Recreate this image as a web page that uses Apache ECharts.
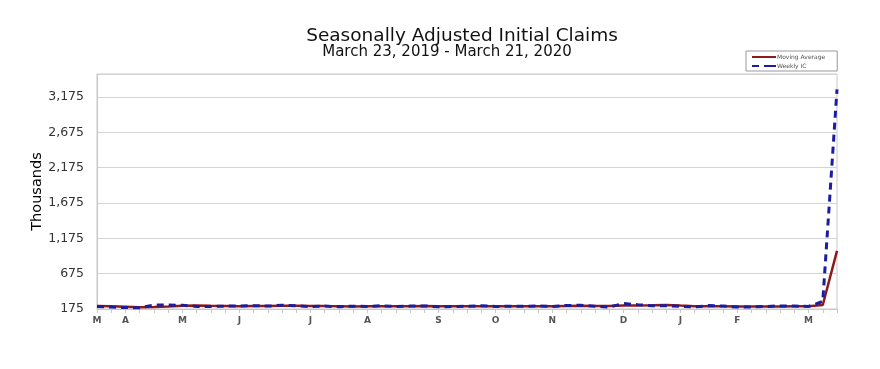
<!DOCTYPE html>
<html>
<head>
<meta charset="utf-8">
<script src="https://cdn.jsdelivr.net/npm/echarts@6/dist/echarts.min.js"></script>
<style>
  html, body { margin: 0; padding: 0; background: #fff; }
  #chart { width: 880px; height: 369px; }
</style>
</head>
<body>
<div id="chart"></div>
<script>
// week ending dates, 2019-03-23 .. 2020-03-21
const weeks = [
  '3/23', '3/30', '4/6', '4/13', '4/20', '4/27', '5/4', '5/11', '5/18', '5/25',
  '6/1', '6/8', '6/15', '6/22', '6/29', '7/6', '7/13', '7/20', '7/27', '8/3',
  '8/10', '8/17', '8/24', '8/31', '9/7', '9/14', '9/21', '9/28', '10/5', '10/12',
  '10/19', '10/26', '11/2', '11/9', '11/16', '11/23', '11/30', '12/7', '12/14', '12/21',
  '12/28', '1/4', '1/11', '1/18', '1/25', '2/1', '2/8', '2/15', '2/22', '2/29',
  '3/7', '3/14', '3/21'
]

// month letter shown under the first week of each month
const monthLabels = {
  '3/23': 'M', '4/6': 'A', '5/4': 'M', '6/1': 'J', '7/6': 'J', '8/3': 'A',
  '9/7': 'S', '10/5': 'O', '11/2': 'N', '12/7': 'D', '1/4': 'J', '2/1': 'F', '3/7': 'M'
}

// thousands
const weeklyIC = [
  211, 202, 196, 193, 230, 230, 228, 212, 211, 215,
  218, 222, 216, 227, 222, 209, 216, 208, 215, 211,
  221, 210, 216, 219, 206, 210, 215, 220, 211, 214,
  213, 217, 211, 225, 227, 213, 203, 252, 235, 222,
  220, 214, 204, 223, 216, 202, 205, 211, 219, 216,
  211, 282, 3283
]

const movingAverage = [
  217, 213, 207, 201, 205, 212, 220, 225, 220, 217,
  214, 217, 218, 221, 222, 219, 216, 214, 212, 213,
  214, 214, 215, 217, 213, 213, 213, 213, 214, 215,
  215, 214, 214, 217, 220, 219, 217, 224, 226, 228,
  232, 223, 215, 215, 214, 211, 212, 209, 209, 213,
  214, 232, 998
]

const chart = echarts.init(document.getElementById('chart'))

const option = {
  backgroundColor: '#fff',
  animation: false,
  textStyle: { fontFamily: 'DejaVu Sans, sans-serif' },
  title: [
    {
      text: 'Seasonally Adjusted Initial Claims',
      left: 457,
      top: 22,
      textAlign: 'center',
      textStyle: { fontSize: 18.5, fontWeight: 'normal', color: '#111' },
    },
    {
      text: 'March 23, 2019 - March 21, 2020',
      left: 442,
      top: 40,
      textAlign: 'center',
      textStyle: { fontSize: 15, fontWeight: 'normal', color: '#111' },
    },
  ],
  legend: {
    left: 746,
    top: 51,
    orient: 'vertical',
    itemWidth: 24,
    itemHeight: 2,
    itemGap: 3,
    padding: [3, 12, 2, 6],
    borderColor: '#999',
    borderWidth: 1,
    textStyle: { fontSize: 6, color: '#555', padding: [0, 0, 0, -4] },
    data: [
      { name: 'Moving Average', icon: 'path://M0,0H24V2H0Z' },
      { name: 'Weekly IC', icon: 'path://M0,0H7V2H0ZM12,0H24V2H12Z' },
    ],
  },
  grid: {
    left: 97,
    right: 43,
    top: 74,
    bottom: 60,
    show: true,
    borderColor: '#c8c8c8',
    borderWidth: 1,
  },
  xAxis: {
    type: 'category',
    data: weeks,
    boundaryGap: false,
    axisLine: { lineStyle: { color: '#c8c8c8' } },
    axisTick: { show: true, interval: 0, length: 4, lineStyle: { color: '#c8c8c8' } },
    axisLabel: {
      interval: 0,
      margin: 7,
      fontSize: 9,
      fontWeight: 'bold',
      color: '#555',
      formatter: (value) => monthLabels[value] || '',
    },
    splitLine: { show: false },
  },
  yAxis: {
    type: 'value',
    name: 'Thousands',
    nameLocation: 'middle',
    nameGap: 52,
    nameMoveOverlap: false,
    nameTextStyle: { fontSize: 14.5, color: '#000' },
    min: 175,
    max: 3500,
    interval: 500,
    axisLine: { show: true, lineStyle: { color: '#c8c8c8' } },
    axisTick: { show: false },
    axisLabel: {
      margin: 13,
      fontSize: 12.5,
      color: '#333',
      showMaxLabel: false,
      formatter: (v) => v.toLocaleString('en-US'),
    },
    splitLine: { lineStyle: { color: '#d4d4d4' } },
  },
  series: [
    {
      name: 'Moving Average',
      type: 'line',
      data: movingAverage,
      symbol: 'none',
      z: 2,
      lineStyle: { color: '#8e1b1b', width: 2.5 },
      itemStyle: { color: '#8e1b1b' },
    },
    {
      name: 'Weekly IC',
      type: 'line',
      data: weeklyIC,
      symbol: 'none',
      z: 3,
      lineStyle: { color: '#1c1ca0', width: 3, type: [7, 5] },
      itemStyle: { color: '#1c1ca0' },
    },
  ],
}

chart.setOption(option)
</script>
</body>
</html>
